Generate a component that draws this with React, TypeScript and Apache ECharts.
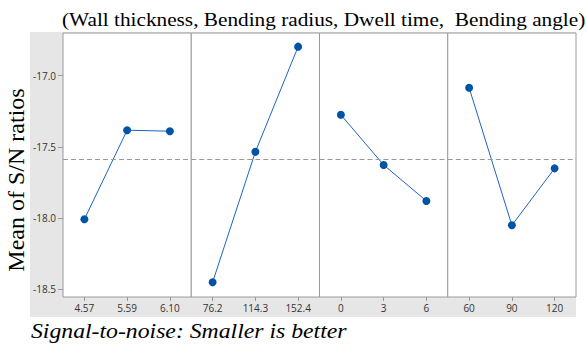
import React, { useEffect, useRef } from "react";
import * as echarts from "echarts";

const titleText = "(Wall thickness, Bending radius, Dwell time,  Bending angle)";
const yAxisTitle = "Mean of S/N ratios";
const footText = "Signal-to-noise: Smaller is better";

const wallThickness = ["4.57", "5.59", "6.10"];
const snWall = [-18.009, -17.383, -17.39];
const bendingRadius = ["76.2", "114.3", "152.4"];
const snRadius = [-18.451, -17.535, -16.796];
const dwellTime = ["0", "3", "6"];
const snDwell = [-17.275, -17.627, -17.88];
const bendingAngle = ["60", "90", "120"];
const snAngle = [-17.085, -18.051, -17.651];
const overallMean = -17.59;
const yTicks = [-18.5, -18.0, -17.5, -17.0];

const panels = [
  { cats: wallThickness, vals: snWall },
  { cats: bendingRadius, vals: snRadius },
  { cats: dwellTime, vals: snDwell },
  { cats: bendingAngle, vals: snAngle },
];

const SERIF = "Liberation Serif, Times New Roman, serif";

export default function App() {
  const ref = useRef<HTMLDivElement>(null);
  useEffect(() => {
    if (!ref.current) return;
    const chart = echarts.init(ref.current, null, { renderer: "svg" });
    const plotLeft = 63;
    const plotRight = 576;
    const plotTop = 33;
    const plotBottom = 297;
    const w = (plotRight - plotLeft) / panels.length;
    const grids = panels.map((_, i) => ({
      left: plotLeft + i * w,
      width: w,
      top: plotTop,
      height: plotBottom - plotTop,
      show: true,
      backgroundColor: "#ffffff",
      borderColor: "#9a9a9a",
      borderWidth: 1,
    }));
    const xAxes = panels.map((p, i) => ({
      type: "category",
      gridIndex: i,
      data: p.cats,
      boundaryGap: true,
      axisLine: { show: false },
      axisTick: { show: true, alignWithLabel: true, length: 4, lineStyle: { color: "#9a9a9a" } },
      axisLabel: { color: "#333333", fontSize: 10, fontFamily: "Open Sans", margin: 6 },
    }));
    const yAxes = panels.map((_, i) => ({
      type: "value",
      gridIndex: i,
      min: -18.555,
      max: -16.7,
      splitLine: { show: false },
      axisLine: { show: false },
      axisTick: {
        show: i === 0,
        length: 5,
        customValues: yTicks,
        lineStyle: { color: "#9a9a9a" },
      },
      axisLabel: {
        show: i === 0,
        customValues: yTicks,
        formatter: (v: number) => v.toFixed(1),
        color: "#333333",
        fontSize: 10,
        fontFamily: "Open Sans",
        margin: 7,
      },
    }));
    const series = panels.map((p, i) => ({
      type: "line",
      xAxisIndex: i,
      yAxisIndex: i,
      data: p.vals,
      symbol: "circle",
      symbolSize: 8,
      itemStyle: { color: "#0054a6" },
      lineStyle: { color: "#1f64c0", width: 1 },
      markLine: {
        silent: true,
        symbol: "none",
        label: { show: false },
        lineStyle: { color: "#9a9a9a", type: [5, 3], width: 1 },
        data: [{ yAxis: overallMean }],
      },
      z: 3,
    }));
    chart.setOption({
      animation: false,
      backgroundColor: "#ffffff",
      grid: grids,
      xAxis: xAxes,
      yAxis: yAxes,
      series,
      graphic: [
        {
          type: "rect",
          z: -10,
          shape: { x: 30, y: 32, width: 546, height: 285 },
          style: { fill: "#e6e6e6" },
          silent: true,
        },
        {
          type: "text",
          x: 62,
          y: 19,
          scaleX: 1.12,
          z: 10,
          style: {
            text: titleText,
            fontFamily: SERIF,
            fontSize: 19,
            fill: "#000000",
            verticalAlign: "middle",
          },
        },
        {
          type: "text",
          x: 16,
          y: 180,
          rotation: Math.PI / 2,
          style: {
            text: yAxisTitle,
            fontFamily: SERIF,
            fontSize: 24,
            fill: "#000000",
            align: "center",
            verticalAlign: "middle",
          },
        },
        {
          type: "text",
          x: 31,
          y: 331,
          scaleX: 1.13,
          style: {
            text: footText,
            fontFamily: SERIF,
            fontStyle: "italic",
            fontSize: 21,
            fill: "#000000",
            verticalAlign: "middle",
          },
        },
      ],
    });
    return () => chart.dispose();
  }, []);
  return <div ref={ref} style={{ width: 587, height: 344, position: "absolute", left: 0, top: 0 }} />;
}
